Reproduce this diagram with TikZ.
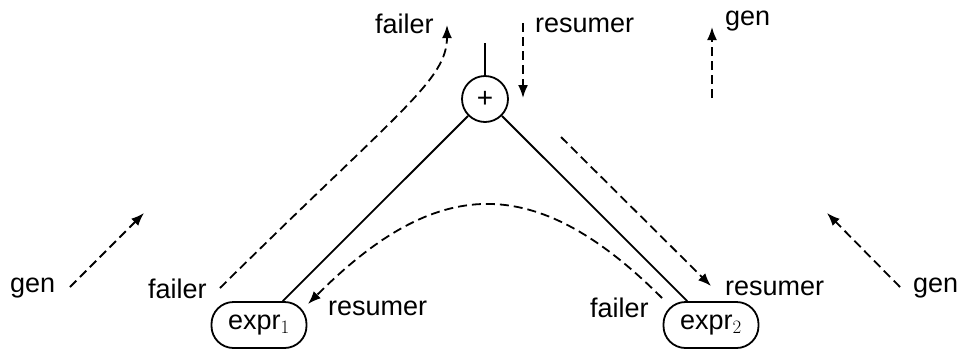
\RequirePackage{fix-cm}
\documentclass[tikz,border=0pt]{standalone}
\usepackage{fontspec}
\setmainfont{Liberation Sans}
\usetikzlibrary{arrows.meta}
\begin{document}
\begin{tikzpicture}[x=1pt,y=-1pt,
  lbl/.style={anchor=base west,inner sep=0pt,font=\fontsize{27}{32}\selectfont},
  exprbox/.style={draw,line width=1.8pt,rounded corners=22pt,minimum width=95pt,minimum height=46pt,inner sep=0pt,font=\fontsize{27}{32}\selectfont},
  opnode/.style={draw,circle,line width=1.8pt,minimum size=46pt,inner sep=0pt,font=\fontsize{28}{32}\selectfont},
  tree/.style={line width=1.8pt},
  flow/.style={line width=1.8pt,dash pattern=on 9pt off 5pt,-{Latex[length=13pt,width=10pt]}}]
\useasboundingbox (0,0) rectangle (962,349);
% nodes
\node[opnode] (plus) at (485,99) {+};
\node[exprbox] (e1) at (259,325) {expr$_{1}$};
\node[exprbox] (e2) at (711,325) {expr$_{2}$};
\coordinate (top) at (485,43);
\draw[tree] (plus) -- (top);
\draw[tree] (plus) -- (e1);
\draw[tree] (plus) -- (e2);
% labels
\node[lbl] (lfailtop) at (375,33) {failer};
\node[lbl] (lrestop) at (535,32) {resumer};
\node[lbl] (lgentop) at (725,25) {gen};
\node[lbl] (lgenl) at (10,292) {gen};
\node[lbl] (lfaill) at (148,298) {failer};
\node[lbl] (lres1) at (328,315) {resumer};
\node[lbl] (lfail2) at (590,317) {failer};
\node[lbl] (lresr) at (725,295) {resumer};
\node[lbl] (lgenr) at (913,292) {gen};
% arrow end points
\coordinate (fs) at (220,288);
\coordinate (fe) at (447,25);
\coordinate (rs) at (523,23);
\coordinate (re) at (523,98);
\coordinate (gs) at (712,98);
\coordinate (ge) at (712,27);
\coordinate (gls) at (70,287);
\coordinate (gle) at (144,213);
\coordinate (grs) at (900,287);
\coordinate (gre) at (827,213);
\coordinate (rrs) at (561,137);
\coordinate (rre) at (711,286);
\coordinate (as) at (662,298);
\coordinate (ae) at (308,304);
% dashed arrows
\draw[flow] (fs) .. controls (400,110) and (447,80) .. (fe);
\draw[flow] (rs) -- (re);
\draw[flow] (gs) -- (ge);
\draw[flow] (gls) -- (gle);
\draw[flow] (grs) -- (gre);
\draw[flow] (rrs) -- (rre);
\draw[flow] (as) .. controls (534,170) and (436,176) .. (ae);
\end{tikzpicture}
\end{document}
